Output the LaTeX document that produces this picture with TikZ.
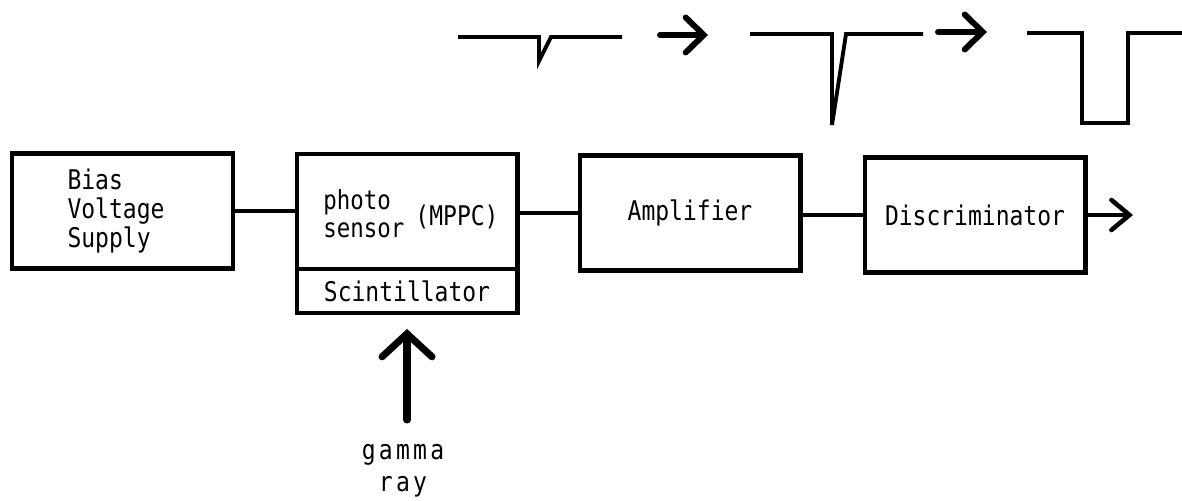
\documentclass[tikz,border=0pt]{standalone}
\usepackage{fontspec}
\setmonofont{DejaVu Sans Mono}[FakeStretch=0.85]
\newfontfamily\spacedmono{DejaVu Sans Mono}[FakeStretch=0.85, LetterSpace=12]
\usetikzlibrary{arrows.meta}

\begin{document}
\begin{tikzpicture}[x=0.02cm, y=-0.02cm,
    font=\ttfamily\fontsize{15.4pt}{16.5pt}\selectfont,
    block/.style={rectangle, draw, line width=2.3pt, minimum width=4.42cm, minimum height=2.3cm, inner sep=0pt},
    wire/.style={line width=2.3pt},
    wave/.style={line width=2.2pt},
    fatarrow/.style={line width=3.4pt, line cap=round, -{Straight Barb[length=0.36cm, width=0.7cm, line cap=round]}}]
  \useasboundingbox (0,0) rectangle (1182,500);

  % signal chain
  \node (bias) [block] at (122.5,211) {};
  \node (biastxt) [align=left, inner sep=0pt] at (116,211) {Bias\\Voltage\\Supply};
  \node (sensor) [block] at (407,211.5) {};
  \node (photo) [anchor=west, align=left, inner sep=0pt, font=\ttfamily\fontsize{15pt}{15.6pt}\selectfont] at (323,213.5) {photo\\sensor};
  \node (mppc) [inner sep=0pt] at (457,217) {(MPPC)};
  \node (scint) [block, minimum height=0.88cm] at (407,291) {Scintillator};
  \node (amp) [block] at (690,213) {Amplifier};
  \node (disc) [block] at (975,215) {Discriminator};
  \coordinate (out) at (1133,215);

  \draw[wire] (bias.east) -- (bias.east -| sensor.west);
  \draw[wire] (sensor.east |- amp.west) -- (amp.west);
  \draw[wire] (amp.east |- disc.west) -- (disc.west);
  \draw[wire, line width=2.6pt, -{Straight Barb[length=0.36cm, width=0.6cm, line cap=round]}] (disc.east) -- (out);

  % incoming radiation
  \node (gamma) [inner sep=0pt, align=center, font=\spacedmono\fontsize{15.4pt}{18.2pt}\selectfont] at (403,471) {gamma\\ray};
  \coordinate (gsrc) at (407,420);
  \draw[line width=4pt, line cap=round, -{Straight Barb[length=0.46cm, width=1.0cm, line cap=round]}, shorten >=0.28cm] (gsrc) -- (gsrc |- scint.south);

  % pulse shapes along the chain
  \draw[wave] (458,37) -- (539,37) -- (539,61) -- (551,37) -- (622,37);
  \draw[fatarrow] (660,35) -- (708,35);
  \draw[wave] (750,34) -- (832,34) -- (832,125) -- (846,34) -- (923,34);
  \draw[fatarrow] (938,32) -- (987,32);
  \draw[wave] (1027,33) -- (1082,33) -- (1082,123) -- (1128,123) -- (1128,33) -- (1182,33);
\end{tikzpicture}
\end{document}
